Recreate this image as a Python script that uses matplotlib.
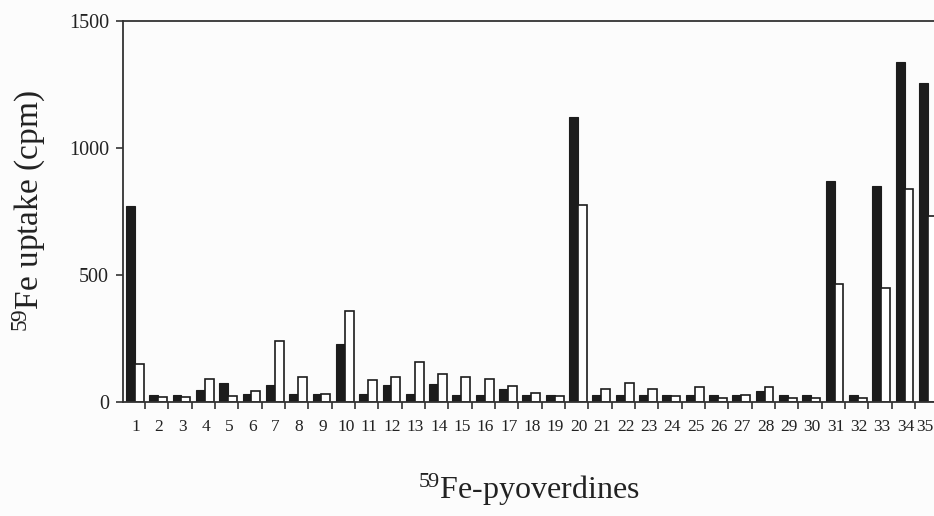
import numpy as np
import matplotlib
matplotlib.use("Agg")
import matplotlib.pyplot as plt

plt.rcParams['font.family'] = ['Liberation Serif', 'DejaVu Serif']
plt.rcParams['mathtext.fontset'] = 'custom'
plt.rcParams['mathtext.rm'] = 'Liberation Serif'
plt.rcParams['mathtext.it'] = 'Liberation Serif:italic'

labels = [str(i) for i in range(1, 36)]
black_vals = [771, 29, 29, 46, 75, 31, 66, 31, 31, 229,
              31, 68, 30, 72, 26, 26, 50, 26, 26, 1121,
              26, 26, 26, 26, 26, 26, 26, 43, 26, 26,
              871, 26, 851, 1339, 1257]
white_vals = [151, 20, 20, 92, 25, 42, 239, 98, 31, 357,
              88, 98, 159, 109, 99, 89, 63, 34, 24, 777,
              50, 73, 50, 24, 60, 17, 26, 59, 17, 17,
              463, 17, 449, 840, 731]
yticks = [0, 500, 1000, 1500]

fig = plt.figure(figsize=(9.34, 5.16), dpi=100)
fig.patch.set_facecolor('#fcfcfc')
ax = fig.add_axes([123 / 934, 114 / 516, 811 / 934, 381 / 516])
ax.set_facecolor('#fcfcfc')

x = np.arange(len(labels))
w = 0.38
ax.bar(x + 0.37, black_vals, w, color='#1c1c1c', edgecolor='#1c1c1c', linewidth=0.8)
ax.bar(x + 0.75, white_vals, w, color='white', edgecolor='#1c1c1c', linewidth=1.2)

ax.set_xlim(0.056, 34.82)
ax.set_ylim(0, 1500)

ax.set_xticks(np.arange(1, 35))
ax.set_xticklabels([])
ax.tick_params(axis='x', which='major', direction='out', length=5, width=1.2, color='#333333')
# labels sit between the group ticks; nudge the last one so it stays inside the figure
label_pos = x + 0.6
label_pos[-1] = 34.42
ax.set_xticks(label_pos, minor=True)
ax.set_xticklabels(labels, minor=True, fontsize=12.5, color='#222222')
ax.tick_params(axis='x', which='minor', length=0, pad=12)

ax.set_yticks(yticks)
ax.set_yticklabels([str(v) for v in yticks], fontsize=14.5, color='#222222')
ax.tick_params(axis='y', direction='out', length=5, width=1.2, color='#333333', pad=5)

for s in ['left', 'top', 'bottom']:
    ax.spines[s].set_color('#333333')
    ax.spines[s].set_linewidth(1.3)
ax.spines['right'].set_visible(False)

ax.set_ylabel(r'$^{59}$Fe uptake (cpm)', fontsize=24, color='#222222')
ax.yaxis.set_label_coords(-0.092, 0.5)
ax.set_xlabel(r'$^{59}$Fe-pyoverdines', fontsize=23, color='#222222')
ax.xaxis.set_label_coords(0.5, -0.183)

fig.savefig('out.png', dpi=100, facecolor=fig.get_facecolor())
